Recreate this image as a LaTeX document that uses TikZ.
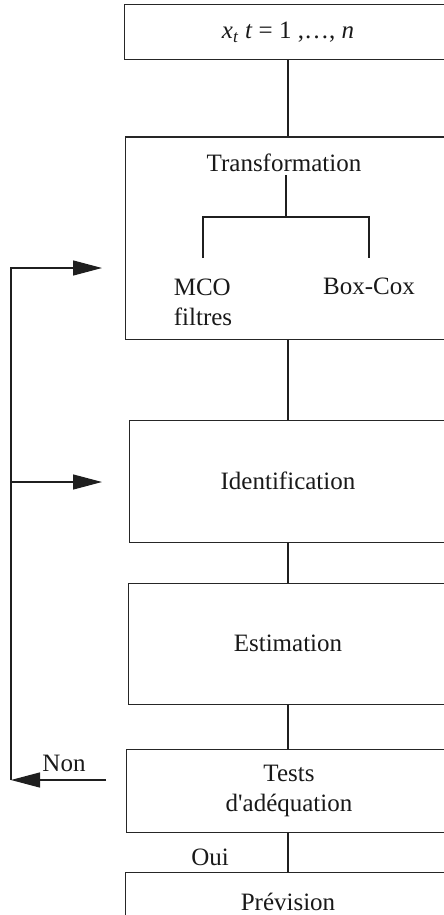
\documentclass[tikz,border=0pt]{standalone}
\usepackage{fontspec}
\setmainfont{Liberation Serif}
\usetikzlibrary{arrows.meta}
\begin{document}
\begin{tikzpicture}[x=1pt,y=-1pt,
  every node/.style={font=\fontsize{25}{30}\selectfont, text=black!90},
  stagebox/.style={draw=black!85, line width=1pt, rectangle, inner sep=0pt},
  link/.style={draw=black!88, line width=1.2pt},
  arr/.style={draw=black!88, line width=1.3pt, -{Triangle[length=29pt,width=15pt]}},
  lbl/.style={inner sep=0pt}]
\useasboundingbox (0,0) rectangle (444,915);
\clip (0,0) rectangle (444,915);
% boxes
\node[stagebox, minimum width=328pt, minimum height=55pt] (b1) at (288,32.5) {\textit{x}\textsubscript{\textit{t}} \textit{t} = 1 ,…, \textit{n}};
\node[stagebox, minimum width=326pt, minimum height=202pt] (b2) at (288,238) {};
\node[stagebox, minimum width=318pt, minimum height=122pt] (b3) at (288,481) {Identification};
\node[stagebox, minimum width=320pt, minimum height=121pt] (b4) at (288,643.5) {Estimation};
\node[stagebox, minimum width=326pt, minimum height=83pt, align=center] (b5) at (289,790.5) {Tests\\d\textquotesingle adéquation};
\node[stagebox, minimum width=326pt, minimum height=60pt] (b6) at (288,902) {Prévision};
% inside transformation
\node (tr) at (284,163) {Transformation};
\node[anchor=north, inner xsep=0pt, inner ysep=21pt, align=left] (mco) at (203,258) {MCO\\filtres};
\node[anchor=north, inner xsep=0pt, inner ysep=20pt] (bc) at (369,258) {Box-Cox};
\coordinate (j) at (286,217);
\draw[link] (j |- tr.south) -- (j);
\draw[link] (mco.north) |- (j) -| (bc.north);
% spine
\draw[link] (b1.south) -- (b2.north);
\draw[link] (b2.south) -- (b3.north);
\draw[link] (b3.south) -- (b4.north);
\draw[link] (b4.south) -- (b5.north -| b4.south);
\draw[link] (b5.south -| b4.south) -- (b6.north);
% feedback loop
\coordinate (L1) at (11,268);
\coordinate (L2) at (11,482);
\coordinate (L3) at (11,780);
\coordinate (a2) at (102,268);
\coordinate (a3) at (102,482);
\coordinate (n0) at (106,780);
\draw[arr] (n0) -- (L3);
\draw[arr] (L3) -- (L1) -- (a2);
\draw[arr] (L2) -- (a3);
\node[lbl] (non) at (64,763) {Non};
\node[lbl] (oui) at (210,857) {Oui};
\end{tikzpicture}
\end{document}
